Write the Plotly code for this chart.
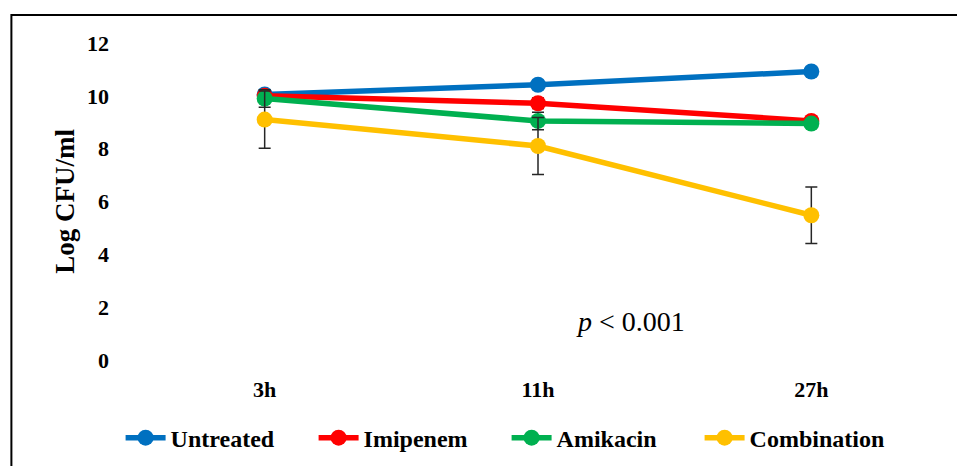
import plotly.graph_objects as go

times = ["3h", "11h", "27h"]
series_names = ["Untreated", "Imipenem", "Amikacin", "Combination"]
untreated = [10.05, 10.42, 10.92]
imipenem = [10.0, 9.72, 9.05]
amikacin = [9.9, 9.05, 8.95]
combination = [9.1, 8.1, 5.48]
untreated_err = [0.15, 0.15, 0.15]
imipenem_err = [0.1, 0.2, 0.15]
amikacin_err = [0.33, 0.33, 0.15]
combination_err = [1.08, 1.08, 1.07]
colors = ["#0070C0", "#FF0000", "#00B050", "#FFC000"]
y_ticks = [0, 2, 4, 6, 8, 10, 12]

values = [untreated, imipenem, amikacin, combination]
errors = [untreated_err, imipenem_err, amikacin_err, combination_err]

FONT = "Liberation Serif"

fig = go.Figure()
for name, vals, errs, col in zip(series_names, values, errors, colors):
    fig.add_trace(go.Scatter(
        x=times, y=vals, name=name, mode="lines+markers",
        line=dict(color=col, width=5.5),
        marker=dict(color=col, size=16),
        error_y=dict(type="data", array=errs, visible=True,
                     color="#262626", thickness=1.5, width=6),
    ))

fig.add_annotation(
    x=0.613, y=1.44, xref="paper", yref="y",
    text="<i>p</i> < 0.001", showarrow=False,
    font=dict(family=FONT, size=28, color="#000000"),
)

fig.add_shape(
    type="rect", xref="paper", yref="paper",
    x0=-0.1422, x1=1.05, y0=-0.40, y1=1.0883,
    line=dict(color="#000000", width=2), fillcolor="rgba(0,0,0,0)",
)

fig.update_layout(
    width=957, height=458,
    margin=dict(l=120, r=17, t=35, b=106, autoexpand=False),
    paper_bgcolor="white", plot_bgcolor="white",
    font=dict(family=FONT, color="#000000"),
    showlegend=True,
    legend=dict(
        orientation="h", xref="container", yref="container",
        x=0.521, y=0.061, xanchor="center", yanchor="middle",
        font=dict(family=FONT, size=24, color="#000000", weight="bold"),
        entrywidth=138, entrywidthmode="pixels",
        itemwidth=40, bgcolor="rgba(0,0,0,0)",
    ),
    xaxis=dict(
        type="category", range=[-0.5, 2.5], automargin=False,
        showgrid=False, showline=False, zeroline=False,
        ticks="", ticklabelstandoff=14,
        tickfont=dict(family=FONT, size=22, color="#000000", weight="bold"),
    ),
    yaxis=dict(
        range=[0, 12], tickvals=y_ticks, automargin=False,
        showgrid=False, showline=False, zeroline=False,
        ticks="", ticklabelstandoff=18,
        tickfont=dict(family=FONT, size=22, color="#000000", weight="bold"),
        title=dict(text="Log CFU/ml", standoff=4,
                   font=dict(family=FONT, size=27, color="#000000", weight="bold")),
    ),
)

fig.write_html("out.html")
